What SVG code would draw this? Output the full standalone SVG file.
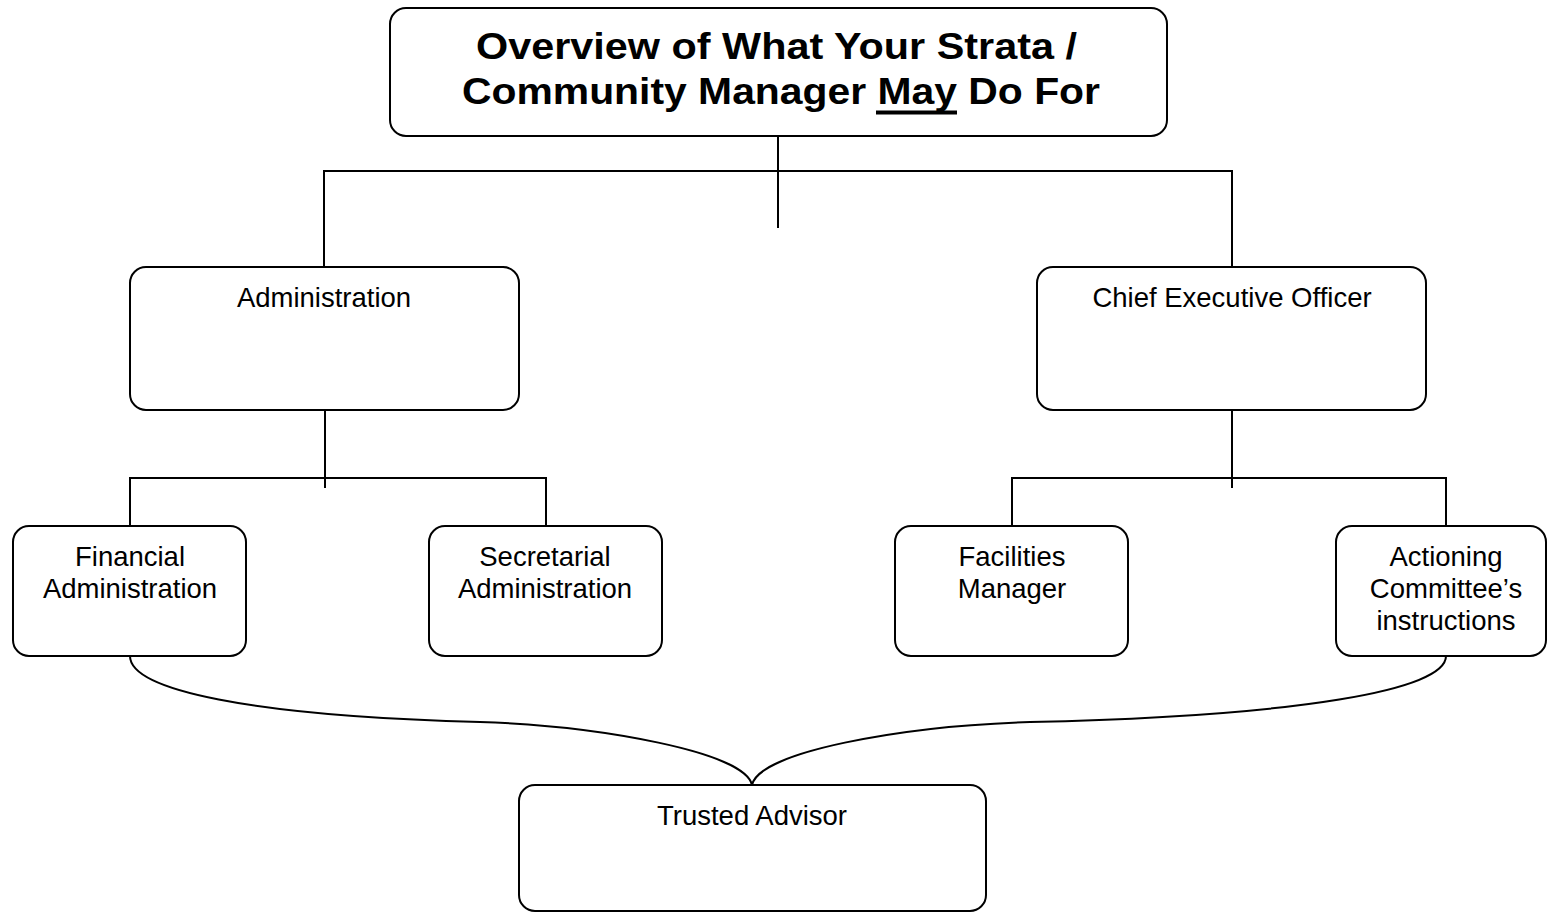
<svg xmlns="http://www.w3.org/2000/svg" width="1547" height="913" viewBox="0 0 1547 913">
  <style>
    .box { fill: #ffffff; stroke: #000000; stroke-width: 2; }
    .wire { fill: none; stroke: #000000; stroke-width: 2; }
    .label { font-family: "Liberation Sans", Arial, sans-serif; font-size: 27.5px; fill: #000000; text-anchor: middle; }
    .title { font-family: "Liberation Sans", Arial, sans-serif; font-size: 37px; font-weight: bold; fill: #000000; text-anchor: middle; }
  </style>
  <rect width="1547" height="913" fill="#ffffff"/>

  <!-- connectors -->
  <g id="connectors" class="wire">
    <!-- title to first tier -->
    <path d="M778,136 V228"/>
    <path d="M324,267 V171 H1232 V267"/>
    <!-- administration branch -->
    <path d="M325,410 V488"/>
    <path d="M130,526 V478 H546 V526"/>
    <!-- chief executive branch -->
    <path d="M1232,410 V488"/>
    <path d="M1012,526 V478 H1446 V526"/>
    <!-- brace joining the outer nodes to the trusted advisor -->
    <path d="M130,656 C130,690 250,716 480,722 C600,726 745,752 752,785"/>
    <path d="M1446,656 C1446,690 1300,716 1030,722 C900,726 759,752 752,785"/>
  </g>

  <g id="node-title">
    <rect class="box" x="390" y="8" width="777" height="128" rx="16"/>
    <text class="title" x="776.5" y="58.5" textLength="601" lengthAdjust="spacingAndGlyphs">Overview of What Your Strata /</text>
    <text class="title" x="781" y="103.5" textLength="638" lengthAdjust="spacingAndGlyphs">Community Manager May Do For</text>
    <!-- underline beneath "May" -->
    <line x1="876" y1="112.5" x2="957" y2="112.5" stroke="#000000" stroke-width="4"/>
  </g>

  <g id="node-administration">
    <rect class="box" x="130" y="267" width="389" height="143" rx="16"/>
    <text class="label" x="324" y="307">Administration</text>
  </g>

  <g id="node-ceo">
    <rect class="box" x="1037" y="267" width="389" height="143" rx="16"/>
    <text class="label" x="1232" y="307">Chief Executive Officer</text>
  </g>

  <g id="node-financial">
    <rect class="box" x="13" y="526" width="233" height="130" rx="16"/>
    <text class="label" x="130" y="566">Financial</text>
    <text class="label" x="130" y="598">Administration</text>
  </g>

  <g id="node-secretarial">
    <rect class="box" x="429" y="526" width="233" height="130" rx="16"/>
    <text class="label" x="545" y="566">Secretarial</text>
    <text class="label" x="545" y="598">Administration</text>
  </g>

  <g id="node-facilities">
    <rect class="box" x="895" y="526" width="233" height="130" rx="16"/>
    <text class="label" x="1012" y="566">Facilities</text>
    <text class="label" x="1012" y="598">Manager</text>
  </g>

  <g id="node-actioning">
    <rect class="box" x="1336" y="526" width="210" height="130" rx="16"/>
    <text class="label" x="1446" y="566">Actioning</text>
    <text class="label" x="1446" y="598">Committee’s</text>
    <text class="label" x="1446" y="630">instructions</text>
  </g>

  <g id="node-trusted-advisor">
    <rect class="box" x="519" y="785" width="467" height="126" rx="16"/>
    <text class="label" x="752" y="825">Trusted Advisor</text>
  </g>
</svg>
